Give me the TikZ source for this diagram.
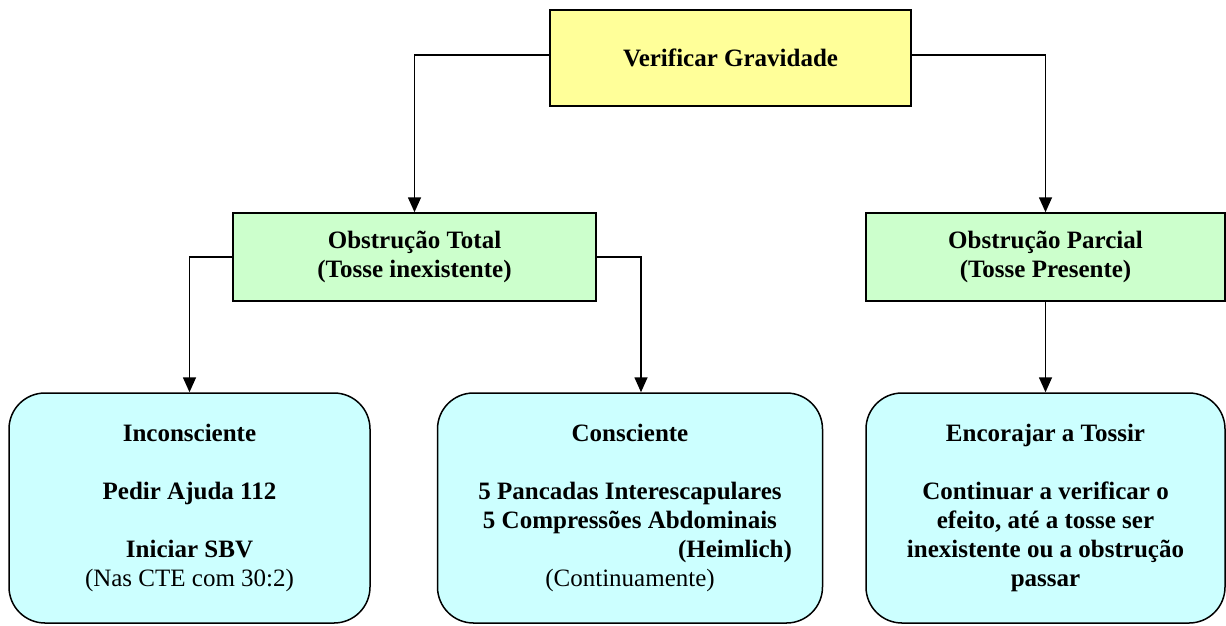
\documentclass[tikz,border=0pt]{standalone}
\usepackage{fontspec}
\setmainfont{Liberation Serif}
\usetikzlibrary{arrows.meta}
\definecolor{yel}{HTML}{FFFF99}
\definecolor{grn}{HTML}{CCFFCC}
\definecolor{cyn}{HTML}{CCFFFF}
\tikzset{
  box/.style={draw=black, line width=1.5pt, inner sep=0pt, align=center,
    font=\fontsize{25}{29}\selectfont\bfseries},
  topbox/.style={box, fill=yel, minimum width=361pt, minimum height=96pt},
  midbox/.style={box, fill=grn, minimum height=88pt},
  leafbox/.style={box, fill=cyn, rounded corners=36pt, minimum height=230pt},
  conn/.style={line width=1.6pt, -{Triangle[width=13pt,length=15pt]}}
}
\begin{document}
\begin{tikzpicture}[x=1pt,y=-1pt]
\useasboundingbox (0,0) rectangle (1226,625);
\node[topbox] (top) at (730.5,58) {Verificar Gravidade};
\node[midbox, minimum width=363pt] (total) at (414.5,257) {Obstrução Total\\(Tosse inexistente)};
\node[midbox, minimum width=359pt] (parcial) at (1045.5,257) {Obstrução Parcial\\(Tosse Presente)};
\node[leafbox, minimum width=361pt] (incons) at (189.5,508) {Inconsciente\\[29pt]Pedir Ajuda 112\\[29pt]Iniciar SBV\\{\mdseries (Nas CTE com 30:2)}};
\node[leafbox, minimum width=385pt] (consc) at (630,508) {Consciente\\[29pt]5 Pancadas Interescapulares\\5 Compressões Abdominais\\\hspace*{210pt}(Heimlich)\\{\mdseries (Continuamente)}};
\node[leafbox, minimum width=359pt] (enc) at (1045.5,508) {Encorajar a Tossir\\[29pt]Continuar a verificar o\\efeito, até a tosse ser\\inexistente ou a obstrução\\passar};
\coordinate (cin) at ([xshift=11pt]consc.north);
\draw[conn] ([yshift=3pt]top.west) -| (total.north);
\draw[conn] ([yshift=3pt]top.east) -| (parcial.north);
\draw[conn] (total.west) -| (incons.north);
\draw[conn] (total.east) -| (cin);
\draw[conn] (parcial.south) -- (enc.north);
\end{tikzpicture}
\end{document}
